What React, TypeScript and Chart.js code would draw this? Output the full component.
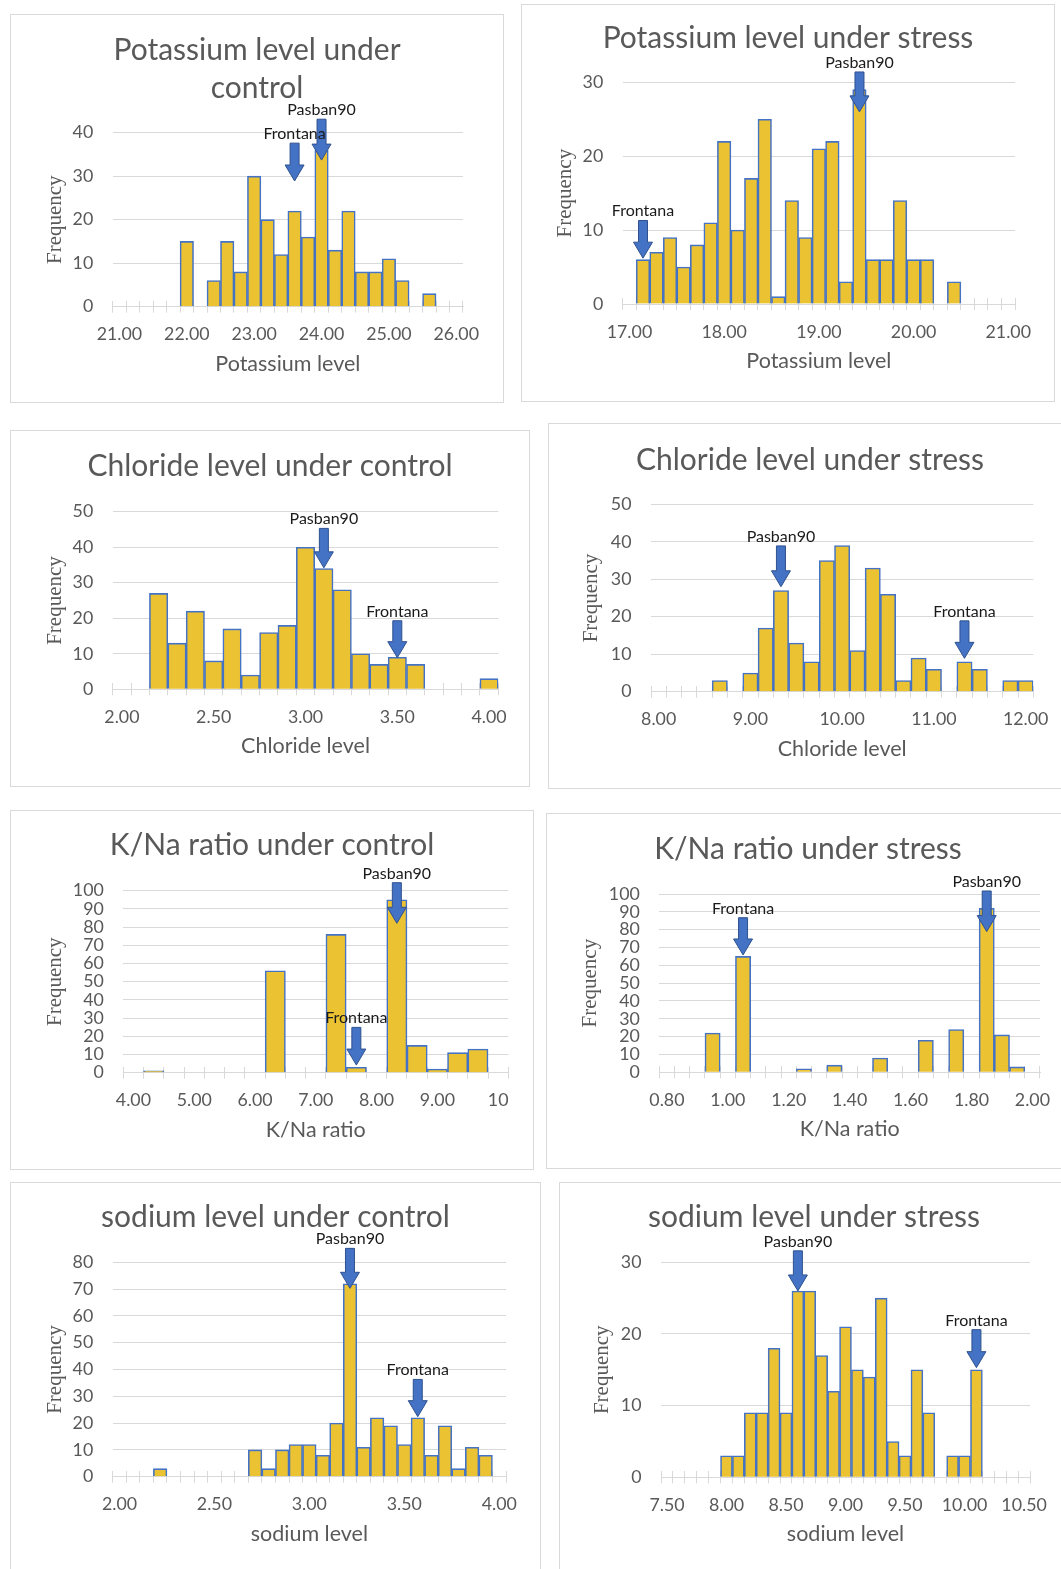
import React, { useEffect, useRef } from "react";
import { Chart, registerables } from "chart.js";

Chart.register(...registerables);

// ---------------- DATA ----------------
// Potassium level under control
const kControlBinStart = 21.0;
const kControlBinWidth = 0.2;
const kControlCounts = [0, 0, 0, 0, 0, 15, 0, 6, 15, 8, 30, 20, 12, 22, 16, 36, 13, 22, 8, 8, 11, 6, 0, 3, 0, 0];
const kControlTicks = [21, 22, 23, 24, 25, 26];
const kControlTickLabels = ["21.00", "22.00", "23.00", "24.00", "25.00", "26.00"];
const kControlArrows = [
  { label: "Frontana", x: 23.6, tip: 28.9, top: 37.6 },
  { label: "Pasban90", x: 24.0, tip: 33.7, top: 43.1 },
];

// Potassium level under stress
const kStressBinStart = 17.0;
const kStressBinWidth = 1 / 7;
const kStressCounts = [0, 6, 7, 9, 5, 8, 11, 22, 10, 17, 25, 1, 14, 9, 21, 22, 3, 29, 6, 6, 14, 6, 6, 0, 3, 0, 0, 0, 0];
const kStressTicks = [17, 18, 19, 20, 21];
const kStressTickLabels = ["17.00", "18.00", "19.00", "20.00", "21.00"];
const kStressArrows = [
  { label: "Frontana", x: 17.143, tip: 6.2, top: 11.3 },
  { label: "Pasban90", x: 19.429, tip: 26.0, top: 31.4 },
];

// Chloride level under control
const clControlBinStart = 2.0;
const clControlBinWidth = 0.1;
const clControlCounts = [0, 0, 27, 13, 22, 8, 17, 4, 16, 18, 40, 34, 28, 10, 7, 9, 7, 0, 0, 0, 3];
const clControlTicks = [2.0, 2.5, 3.0, 3.5, 4.0];
const clControlTickLabels = ["2.00", "2.50", "3.00", "3.50", "4.00"];
const clControlArrows = [
  { label: "Pasban90", x: 3.1, tip: 34.2, top: 45.3 },
  { label: "Frontana", x: 3.5, tip: 8.9, top: 19.3 },
];

// Chloride level under stress
const clStressBinStart = 8.0;
const clStressBinWidth = 1 / 6;
const clStressCounts = [0, 0, 0, 0, 3, 0, 5, 17, 27, 13, 8, 35, 39, 11, 33, 26, 3, 9, 6, 0, 8, 6, 0, 3, 3];
const clStressTicks = [8, 9, 10, 11, 12];
const clStressTickLabels = ["8.00", "9.00", "10.00", "11.00", "12.00"];
const clStressArrows = [
  { label: "Pasban90", x: 9.333, tip: 28.0, top: 38.9 },
  { label: "Frontana", x: 11.333, tip: 8.9, top: 18.9 },
];

// K/Na ratio under control
const knControlBinStart = 4.0;
const knControlBinWidth = 1 / 3;
const knControlCounts = [0, 1, 0, 0, 0, 0, 0, 56, 0, 0, 76, 3, 0, 95, 15, 2, 11, 13, 0];
const knControlTicks = [4, 5, 6, 7, 8, 9, 10];
const knControlTickLabels = ["4.00", "5.00", "6.00", "7.00", "8.00", "9.00", "10"];
const knControlArrows = [
  { label: "Pasban90", x: 8.333, tip: 82.1, top: 104.4 },
  { label: "Frontana", x: 7.667, tip: 4.2, top: 24.9 },
];

// K/Na ratio under stress
const knStressBinStart = 0.8;
const knStressBinWidth = 0.05;
const knStressCounts = [0, 0, 0, 22, 0, 65, 0, 0, 0, 2, 0, 4, 0, 0, 8, 0, 0, 18, 0, 24, 0, 92, 21, 3, 0];
const knStressTicks = [0.8, 1.0, 1.2, 1.4, 1.6, 1.8, 2.0];
const knStressTickLabels = ["0.80", "1.00", "1.20", "1.40", "1.60", "1.80", "2.00"];
const knStressArrows = [
  { label: "Frontana", x: 1.05, tip: 65.8, top: 86.7 },
  { label: "Pasban90", x: 1.85, tip: 78.9, top: 101.7 },
];

// sodium level under control
const naControlBinStart = 2.0;
const naControlBinWidth = 1 / 14;
const naControlCounts = [0, 0, 0, 3, 0, 0, 0, 0, 0, 0, 10, 3, 10, 12, 12, 8, 20, 72, 11, 22, 19, 12, 22, 8, 19, 3, 11, 8, 0];
const naControlTicks = [2.0, 2.5, 3.0, 3.5, 4.0];
const naControlTickLabels = ["2.00", "2.50", "3.00", "3.50", "4.00"];
const naControlArrows = [
  { label: "Pasban90", x: 3.214, tip: 70.3, top: 85.2 },
  { label: "Frontana", x: 3.571, tip: 22.4, top: 36.3 },
];

// sodium level under stress
const naStressBinStart = 7.5;
const naStressBinWidth = 0.1;
const naStressCounts = [0, 0, 0, 0, 0, 3, 3, 9, 9, 18, 9, 26, 26, 17, 12, 21, 15, 14, 25, 5, 3, 15, 9, 0, 3, 3, 15, 0, 0, 0, 0];
const naStressTicks = [7.5, 8.0, 8.5, 9.0, 9.5, 10.0, 10.5];
const naStressTickLabels = ["7.50", "8.00", "8.50", "9.00", "9.50", "10.00", "10.50"];
const naStressArrows = [
  { label: "Pasban90", x: 8.6, tip: 26.0, top: 31.6 },
  { label: "Frontana", x: 10.1, tip: 15.3, top: 20.6 },
];

// ---------------- STYLE ----------------
const FONT_SANS = "Lato, 'Open Sans', sans-serif";
const FONT_SERIF = "'Liberation Serif', 'DejaVu Serif', serif";
const TEXT = "#595959";
const GRID = "#D9D9D9";
const BAR_FILL = "#EBC232";
const BAR_EDGE = "#4472C4";
const ARROW_FILL = "#4472C4";
const ARROW_EDGE = "#2F528F";
const NOTE_COLOR = "#1a1a1a";
const TITLE_SIZE = 30;
const TITLE_LINE = 1.27;
const TICK_SIZE = 17.8;
const XTITLE_SIZE = 21.5;
const YTITLE_SIZE = 21;
const NOTE_SIZE = 16;
const TICK_LEN = 6;
const X_LABEL_GAP = 26;
const X_TITLE_GAP = 57;
const Y_LABEL_PAD = 19.5;
const HEAD_LEN = 16;
const SHAFT_HW = 4.5;
const HEAD_HW = 9.5;

type Arrow = { label: string; x: number; tip: number; top: number };
type PanelDef = {
  title: string[];
  xTitle: string;
  start: number;
  width: number;
  counts: number[];
  ticks: number[];
  tickLabels: string[];
  arrows: Arrow[];
  yMax: number;
};
type PanelLayout = { box: number[]; area: number[]; titleY: number; freqX: number };

const panels: PanelDef[] = [
  { title: ["Potassium level under", "control"], xTitle: "Potassium level", start: kControlBinStart, width: kControlBinWidth, counts: kControlCounts, ticks: kControlTicks, tickLabels: kControlTickLabels, arrows: kControlArrows, yMax: 40 },
  { title: ["Potassium level under stress"], xTitle: "Potassium level", start: kStressBinStart, width: kStressBinWidth, counts: kStressCounts, ticks: kStressTicks, tickLabels: kStressTickLabels, arrows: kStressArrows, yMax: 30 },
  { title: ["Chloride level under control"], xTitle: "Chloride level", start: clControlBinStart, width: clControlBinWidth, counts: clControlCounts, ticks: clControlTicks, tickLabels: clControlTickLabels, arrows: clControlArrows, yMax: 50 },
  { title: ["Chloride level under stress"], xTitle: "Chloride level", start: clStressBinStart, width: clStressBinWidth, counts: clStressCounts, ticks: clStressTicks, tickLabels: clStressTickLabels, arrows: clStressArrows, yMax: 50 },
  { title: ["K/Na ratio under control"], xTitle: "K/Na ratio", start: knControlBinStart, width: knControlBinWidth, counts: knControlCounts, ticks: knControlTicks, tickLabels: knControlTickLabels, arrows: knControlArrows, yMax: 100 },
  { title: ["K/Na ratio under stress"], xTitle: "K/Na ratio", start: knStressBinStart, width: knStressBinWidth, counts: knStressCounts, ticks: knStressTicks, tickLabels: knStressTickLabels, arrows: knStressArrows, yMax: 100 },
  { title: ["sodium level under control"], xTitle: "sodium level", start: naControlBinStart, width: naControlBinWidth, counts: naControlCounts, ticks: naControlTicks, tickLabels: naControlTickLabels, arrows: naControlArrows, yMax: 80 },
  { title: ["sodium level under stress"], xTitle: "sodium level", start: naStressBinStart, width: naStressBinWidth, counts: naStressCounts, ticks: naStressTicks, tickLabels: naStressTickLabels, arrows: naStressArrows, yMax: 30 },
];

// page-coordinate layout of each framed chart (box) and its plot area
const layouts: PanelLayout[] = [
  { box: [10, 14, 504, 403], area: [112.7, 132.7, 463, 306.7], titleY: 50, freqX: 55 },
  { box: [521, 4, 1055, 402], area: [622.7, 82.3, 1015, 304], titleY: 38, freqX: 565 },
  { box: [10, 430, 530, 787], area: [112.7, 511.7, 498.3, 689.3], titleY: 466, freqX: 55 },
  { box: [548, 423, 1072, 789], area: [651, 504.3, 1033.3, 691.7], titleY: 460, freqX: 591.7 },
  { box: [10, 810, 534, 1170], area: [123.3, 890.7, 508.3, 1072.7], titleY: 845, freqX: 55 },
  { box: [546, 813, 1070, 1169], area: [659.3, 894, 1040, 1072.3], titleY: 849, freqX: 590.7 },
  { box: [10, 1182, 541, 1580], area: [112.7, 1262.3, 506, 1476.7], titleY: 1217, freqX: 55 },
  { box: [559, 1182, 1069, 1580], area: [661, 1262.3, 1030, 1477.3], titleY: 1217, freqX: 602.7 },
];

function Panel({ p, l }: { p: PanelDef; l: PanelLayout }) {
  const ref = useRef<HTMLCanvasElement | null>(null);
  const [bl, bt, br, bb] = l.box;
  const W = Math.round(br - bl - 2);
  const H = Math.round(bb - bt - 2);

  useEffect(() => {
    const canvas = ref.current;
    if (!canvas) return;
    const ox = bl + 1;
    const oy = bt + 1;
    const cl = l.area[0] - ox;
    const ct = l.area[1] - oy;
    const cr = l.area[2] - ox;
    const cb = l.area[3] - oy;
    const side = W - cr;
    const yAxisWidth = cl - side;
    const titleLH = TITLE_SIZE * TITLE_LINE;
    const titlePadTop = l.titleY - oy - titleLH / 2;
    const titlePadBottom = ct - titlePadTop - p.title.length * titleLH;
    const yTitleLH = YTITLE_SIZE * 1.2;
    const yTitlePad = l.freqX - ox - side - yTitleLH / 2;
    const xTitleLH = XTITLE_SIZE * 1.2;
    const labelAxisHeight = X_TITLE_GAP + xTitleLH / 2 - TICK_LEN;
    const padBottom = H - cb - TICK_LEN - labelAxisHeight;
    const labelPad = X_LABEL_GAP - TICK_LEN - TICK_SIZE * 0.46 - 8.5;

    const n = p.counts.length;
    const min = p.start - p.width / 2;
    const max = p.start + (n - 0.5) * p.width;
    const edges = Array.from({ length: n + 1 }, (_, i) => min + i * p.width);
    const setEdges = (s: any) => {
      s.ticks = edges.map((v) => ({ value: v }));
    };

    const arrowPlugin = {
      id: "arrowNotes",
      afterDraw(chart: any) {
        const ctx = chart.ctx;
        const xs = chart.scales.x;
        const ys = chart.scales.y;
        ctx.save();
        for (const a of p.arrows) {
          const x = xs.getPixelForValue(a.x);
          const tip = ys.getPixelForValue(a.tip);
          const top = ys.getPixelForValue(a.top);
          const hb = tip - HEAD_LEN;
          ctx.beginPath();
          ctx.moveTo(x - SHAFT_HW, top);
          ctx.lineTo(x + SHAFT_HW, top);
          ctx.lineTo(x + SHAFT_HW, hb);
          ctx.lineTo(x + HEAD_HW, hb);
          ctx.lineTo(x, tip);
          ctx.lineTo(x - HEAD_HW, hb);
          ctx.lineTo(x - SHAFT_HW, hb);
          ctx.closePath();
          ctx.fillStyle = ARROW_FILL;
          ctx.fill();
          ctx.strokeStyle = ARROW_EDGE;
          ctx.lineWidth = 1;
          ctx.stroke();
        }
        ctx.fillStyle = NOTE_COLOR;
        ctx.font = `${NOTE_SIZE}px ${FONT_SANS}`;
        ctx.textAlign = "center";
        ctx.textBaseline = "middle";
        for (const a of p.arrows) {
          const x = xs.getPixelForValue(a.x);
          const top = ys.getPixelForValue(a.top);
          ctx.fillText(a.label, x, top - 9.3);
        }
        ctx.restore();
      },
    };

    const chart = new Chart(canvas, {
      type: "bar",
      data: {
        datasets: [
          {
            data: p.counts.map((c, i) => ({ x: p.start + i * p.width, y: c === 0 ? null : c })) as any,
            backgroundColor: BAR_FILL,
            borderColor: BAR_EDGE,
            borderWidth: 1.6,
            barPercentage: 1,
            categoryPercentage: 1,
            xAxisID: "x",
            yAxisID: "y",
          },
        ],
      },
      options: {
        responsive: false,
        animation: false,
        events: [],
        layout: { padding: { left: side, right: side, top: 0, bottom: padBottom } },
        plugins: {
          legend: { display: false },
          tooltip: { enabled: false },
          title: {
            display: true,
            text: p.title,
            color: TEXT,
            font: { family: FONT_SANS, size: TITLE_SIZE, weight: "normal", lineHeight: TITLE_LINE },
            padding: { top: titlePadTop, bottom: titlePadBottom },
          },
        },
        scales: {
          x: {
            type: "linear",
            axis: "x",
            position: "bottom",
            weight: 0,
            min,
            max,
            offset: false,
            afterBuildTicks: setEdges,
            ticks: { display: false },
            grid: { display: true, offset: false, drawOnChartArea: false, drawTicks: true, tickLength: TICK_LEN, color: GRID, lineWidth: 1 },
            border: { display: true, color: GRID, width: 1 },
            afterFit: (s: any) => {
              s.height = TICK_LEN;
            },
          },
          xu: {
            type: "linear",
            axis: "x",
            position: { y: 0 },
            min,
            max,
            offset: false,
            afterBuildTicks: setEdges,
            ticks: { display: false },
            grid: { display: true, offset: false, drawOnChartArea: false, drawTicks: true, tickLength: -TICK_LEN, color: GRID, lineWidth: 1 },
            border: { display: false },
            afterFit: (s: any) => {
              s.height = 0;
            },
          },
          xl: {
            type: "linear",
            axis: "x",
            position: "bottom",
            weight: 1,
            min,
            max,
            offset: false,
            afterBuildTicks: (s: any) => {
              s.ticks = p.ticks.map((v) => ({ value: v }));
            },
            ticks: {
              display: true,
              autoSkip: false,
              maxRotation: 0,
              minRotation: 0,
              padding: labelPad,
              color: TEXT,
              font: { family: FONT_SANS, size: TICK_SIZE },
              callback: (_v: any, i: number) => p.tickLabels[i],
            },
            grid: { display: false, offset: false },
            border: { display: false },
            title: {
              display: true,
              text: p.xTitle,
              color: TEXT,
              font: { family: FONT_SANS, size: XTITLE_SIZE, lineHeight: 1.2 },
              padding: { top: 0, bottom: 0 },
            },
            afterFit: (s: any) => {
              s.height = labelAxisHeight;
            },
          },
          y: {
            type: "linear",
            position: "left",
            min: 0,
            max: p.yMax,
            ticks: {
              stepSize: 10,
              autoSkip: false,
              padding: Y_LABEL_PAD,
              color: TEXT,
              font: { family: FONT_SANS, size: TICK_SIZE },
            },
            grid: { color: GRID, drawTicks: false, lineWidth: 1 },
            border: { display: false },
            title: {
              display: true,
              text: "Frequency",
              color: TEXT,
              font: { family: FONT_SERIF, size: YTITLE_SIZE, lineHeight: 1.2 },
              padding: { top: yTitlePad, bottom: 0 },
            },
            afterFit: (s: any) => {
              s.width = yAxisWidth;
            },
          },
        } as any,
      },
      plugins: [arrowPlugin],
    });
    return () => chart.destroy();
  }, []);

  return (
    <div
      style={{
        position: "absolute",
        left: bl,
        top: bt,
        width: br - bl,
        height: bb - bt,
        border: `1px solid ${GRID}`,
        boxSizing: "border-box",
        background: "#fff",
      }}
    >
      <canvas ref={ref} width={W} height={H} style={{ display: "block" }} />
    </div>
  );
}

export default function App() {
  return (
    <div
      style={{
        position: "absolute",
        left: 0,
        top: 0,
        width: 1061,
        height: 1569,
        overflow: "hidden",
        background: "#fff",
      }}
    >
      {panels.map((p, i) => (
        <Panel key={i} p={p} l={layouts[i]} />
      ))}
    </div>
  );
}
